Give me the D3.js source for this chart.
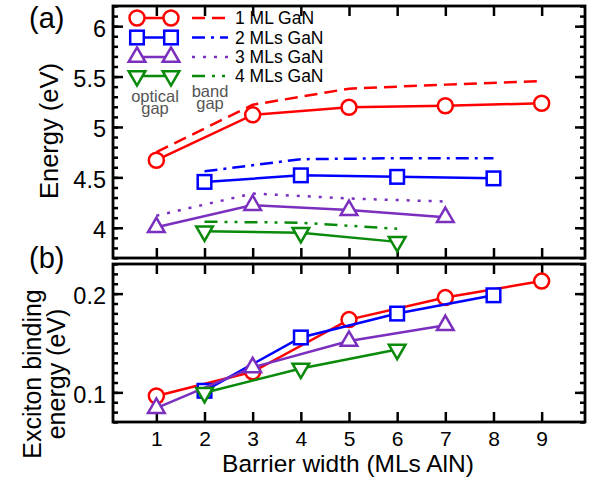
<!DOCTYPE html>
<html><head><meta charset="utf-8">
<script src="https://cdn.jsdelivr.net/npm/d3@7"></script>
<style>
body{margin:0;background:#fff;}
svg{display:block;font-family:"Liberation Sans",Arial,Helvetica,sans-serif;}
</style></head>
<body>
<svg id="c" width="593" height="483"></svg>
<script>
// ---- data ----
const xTicks = [1,2,3,4,5,6,7,8,9];
const x1ML = [1,3,5,7,9];
const x2ML = [2,4,6,8];
const x3ML = [1,3,5,7];
const x4ML = [2,4,6];
const seriesNames = ["1 ML GaN","2 MLs GaN","3 MLs GaN","4 MLs GaN"];
// optical gap (eV)
const opt1 = [4.67, 5.12, 5.195, 5.21, 5.235];
const opt2 = [4.455, 4.52, 4.505, 4.49];
const opt3 = [4.005, 4.225, 4.175, 4.105];
const opt4 = [3.965, 3.95, 3.86];
// band gap (eV)
const band1 = [4.75, 5.22, 5.38, 5.42, 5.455];
const band2 = [4.56, 4.68, 4.69, 4.69];
const band3 = [4.12, 4.34, 4.29, 4.26];
const band4 = [4.06, 4.05, 3.99];
// exciton binding energy (eV)
const exc1 = [0.0963, 0.1208, 0.1737, 0.196, 0.2127];
const exc2 = [0.1016, 0.1556, 0.1798, 0.1983];
const exc3 = [0.0841, 0.1253, 0.152, 0.168];
const exc4 = [0.0996, 0.1242, 0.1434];
const topTickLabels = [4, 4.5, 5, 5.5, 6];
const botTickLabels = [0.1, 0.2];

// ---- styles ----
const colors = ["#ff0000","#0000ff","#7a2fbf","#0a8a0a"];
const dashes = ["13,7","13,6,3,6","3,8","13,7,3,7,3,7"];
const markers = ["circle","square","tri","tridown"];

const svg = d3.select("#c");
const L = 113, R = 585;
const x = d3.scaleLinear().domain([0.1, 9.9]).range([L, R]);
const yT = d3.scaleLinear().domain([3.7, 6.2]).range([258, 6]);
const yB = d3.scaleLinear().domain([0.07, 0.23]).range([422, 264]);

function rangeStep(a, b, s){ const out=[]; for(let v=a; v<=b+1e-9; v+=s) out.push(+v.toFixed(4)); return out; }

function drawAxes(y, majors, minors, labelFmt, showXLabels){
  const [y0, y1] = y.range();
  const g = svg.append("g");
  g.append("g").attr("transform",`translate(${L},0)`)
    .call(d3.axisLeft(y).tickValues(majors).tickSizeInner(-10).tickSizeOuter(0).tickPadding(7).tickFormat(labelFmt))
    .call(s=>{s.select(".domain").remove(); s.selectAll("text").attr("font-size",23.5).attr("fill","#000").attr("dy","0.42em"); s.selectAll("line").attr("stroke-width",2.5);});
  g.append("g").attr("transform",`translate(${L},0)`)
    .call(d3.axisLeft(y).tickValues(minors).tickSizeInner(-5).tickSizeOuter(0).tickFormat(""))
    .call(s=>{s.select(".domain").remove(); s.selectAll("line").attr("stroke-width",2.5);});
  g.append("g").attr("transform",`translate(${R},0)`)
    .call(d3.axisRight(y).tickValues(majors).tickSizeInner(-10).tickSizeOuter(0).tickFormat(""))
    .call(s=>{s.select(".domain").remove(); s.selectAll("line").attr("stroke-width",2.5);});
  g.append("g").attr("transform",`translate(${R},0)`)
    .call(d3.axisRight(y).tickValues(minors).tickSizeInner(-5).tickSizeOuter(0).tickFormat(""))
    .call(s=>{s.select(".domain").remove(); s.selectAll("line").attr("stroke-width",2.5);});
  g.append("g").attr("transform",`translate(0,${y1})`)
    .call(d3.axisTop(x).tickValues(xTicks).tickSizeInner(-10).tickSizeOuter(0).tickFormat(""))
    .call(s=>{s.select(".domain").remove(); s.selectAll("line").attr("stroke-width",2.5);});
  g.append("g").attr("transform",`translate(0,${y0})`)
    .call(d3.axisBottom(x).tickValues(xTicks).tickSizeInner(-10).tickSizeOuter(0).tickPadding(9).tickFormat(showXLabels ? d3.format("d") : ""))
    .call(s=>{s.select(".domain").remove(); s.selectAll("text").attr("font-size",21).attr("fill","#000"); s.selectAll("line").attr("stroke-width",2.5);});
  svg.append("rect").attr("x",L).attr("y",y1).attr("width",R-L).attr("height",y0-y1)
    .attr("fill","none").attr("stroke","#000").attr("stroke-width",2.8);
}

function marker(g, type, cx, cy, color){
  let el;
  if(type==="circle"){
    el = g.append("circle").attr("cx",cx).attr("cy",cy).attr("r",7.5);
  } else if(type==="square"){
    el = g.append("rect").attr("x",cx-6.8).attr("y",cy-6.8).attr("width",13.6).attr("height",13.6);
  } else {
    const sym = d3.symbol().type(d3.symbolTriangle).size(120);
    el = g.append("path").attr("d",sym()).attr("transform",`translate(${cx},${cy})${type==="tridown"?" rotate(180)":""}`);
  }
  el.attr("fill","#fff").attr("stroke",color).attr("stroke-width",2.5);
}

drawAxes(yT, topTickLabels, rangeStep(3.7,6.2,0.1), d3.format("~g"), false);
drawAxes(yB, botTickLabels, rangeStep(0.07,0.23,0.01), d3.format(".1f"), true);

const xsAll = [x1ML, x2ML, x3ML, x4ML];
const optAll = [opt1, opt2, opt3, opt4];
const bandAll = [band1, band2, band3, band4];
const excAll = [exc1, exc2, exc3, exc4];

const gTop = svg.append("g");
bandAll.forEach((vals,i)=>{
  const pts = vals.map((v,j)=>[x(xsAll[i][j]), yT(v)]);
  gTop.append("path").attr("d",d3.line()(pts)).attr("fill","none")
    .attr("stroke",colors[i]).attr("stroke-width",2.5).attr("stroke-dasharray",dashes[i]);
});
optAll.forEach((vals,i)=>{
  const pts = vals.map((v,j)=>[x(xsAll[i][j]), yT(v)]);
  gTop.append("path").attr("d",d3.line()(pts)).attr("fill","none")
    .attr("stroke",colors[i]).attr("stroke-width",2.5);
  pts.forEach(p=>marker(gTop, markers[i], p[0], p[1], colors[i]));
});

const gBot = svg.append("g");
excAll.forEach((vals,i)=>{
  const pts = vals.map((v,j)=>[x(xsAll[i][j]), yB(v)]);
  gBot.append("path").attr("d",d3.line()(pts)).attr("fill","none")
    .attr("stroke",colors[i]).attr("stroke-width",2.5);
  pts.forEach(p=>marker(gBot, markers[i], p[0], p[1], colors[i]));
});

// legend
const leg = svg.append("g");
const rowY = [18, 37.5, 57, 76];
seriesNames.forEach((name,i)=>{
  const yy = rowY[i];
  leg.append("line").attr("x1",137).attr("x2",171).attr("y1",yy).attr("y2",yy)
    .attr("stroke",colors[i]).attr("stroke-width",2.5);
  marker(leg, markers[i], 137, yy, colors[i]);
  marker(leg, markers[i], 171, yy, colors[i]);
  leg.append("line").attr("x1",192).attr("x2",228).attr("y1",yy).attr("y2",yy)
    .attr("stroke",colors[i]).attr("stroke-width",2.5).attr("stroke-dasharray",dashes[i]);
  leg.append("text").attr("x",235).attr("y",yy+6).attr("font-size",17.5).attr("fill","#000").text(name);
});
function twoLine(cx, y0, l1, l2){
  const t = leg.append("text").attr("x",cx).attr("y",y0).attr("text-anchor","middle").attr("font-size",16.5).attr("fill","#555");
  t.append("tspan").attr("x",cx).attr("y",y0).text(l1);
  t.append("tspan").attr("x",cx).attr("dy",12.5).text(l2);
}
twoLine(155, 101.5, "optical", "gap");
twoLine(210, 96.5, "band", "gap");

// panel labels
svg.append("text").attr("x",29).attr("y",28).attr("font-size",29).text("(a)");
svg.append("text").attr("x",29).attr("y",268).attr("font-size",29).text("(b)");

// axis titles
svg.append("text").attr("transform","translate(58,131) rotate(-90)").attr("text-anchor","middle").attr("font-size",25.5).text("Energy (eV)");
svg.append("text").attr("transform","translate(41,374) rotate(-90)").attr("text-anchor","middle").attr("font-size",25).text("Exciton binding");
svg.append("text").attr("transform","translate(65,374) rotate(-90)").attr("text-anchor","middle").attr("font-size",25).text("energy (eV)");
svg.append("text").attr("x",348).attr("y",472).attr("text-anchor","middle").attr("font-size",24.5).text("Barrier width (MLs AlN)");
</script>
</body></html>
